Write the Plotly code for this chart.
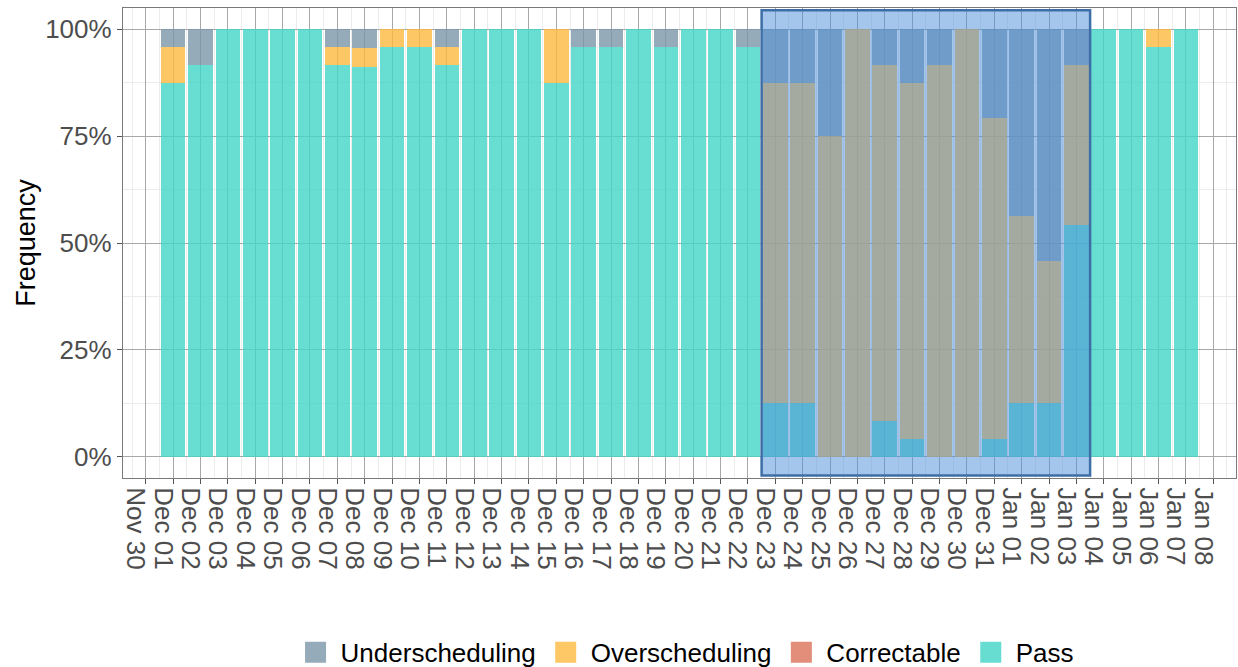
import plotly.graph_objects as go

# ---- data ----
dates = ["2023-12-01", "2023-12-02", "2023-12-03", "2023-12-04", "2023-12-05", "2023-12-06",
         "2023-12-07", "2023-12-08", "2023-12-09", "2023-12-10", "2023-12-11", "2023-12-12",
         "2023-12-13", "2023-12-14", "2023-12-15", "2023-12-16", "2023-12-17", "2023-12-18",
         "2023-12-19", "2023-12-20", "2023-12-21", "2023-12-22", "2023-12-23", "2023-12-24",
         "2023-12-25", "2023-12-26", "2023-12-27", "2023-12-28", "2023-12-29", "2023-12-30",
         "2023-12-31", "2024-01-01", "2024-01-02", "2024-01-03", "2024-01-04", "2024-01-05",
         "2024-01-06", "2024-01-07"]

pass_vals = [0.875, 0.9167, 1, 1, 1, 1, 0.9167, 0.913, 0.9583, 0.9583, 0.9167, 1,
             1, 1, 0.875, 0.9583, 0.9583, 1, 0.9583, 1, 1, 0.9583, 0.125, 0.125,
             0, 0, 0.0833, 0.0417, 0, 0, 0.0417, 0.125, 0.125, 0.5417, 1, 1,
             0.9583, 1]
correctable_vals = [0] * 38
over_vals = [0.0833, 0, 0, 0, 0, 0, 0.0417, 0.0435, 0.0417, 0.0417, 0.0417, 0,
             0, 0, 0.125, 0, 0, 0, 0, 0, 0, 0, 0.75, 0.75,
             0.75, 1, 0.8333, 0.8333, 0.9167, 1, 0.75, 0.4375, 0.3333, 0.375, 0, 0,
             0.0417, 0]
under_vals = [0.0417, 0.0833, 0, 0, 0, 0, 0.0417, 0.0435, 0, 0, 0.0417, 0,
              0, 0, 0, 0.0417, 0.0417, 0, 0.0417, 0, 0, 0.0417, 0.125, 0.125,
              0.25, 0, 0.0833, 0.125, 0.0833, 0, 0.2083, 0.4375, 0.5417, 0.0833, 0, 0,
              0, 0]

y_ticks = [0, 0.25, 0.5, 0.75, 1.0]
highlight_start = "2023-12-22 12:00"
highlight_end = "2024-01-03 12:00"
x_min = "2023-11-29 04:05"
x_max = "2024-01-08 19:55"

series = [
    ("Pass", pass_vals, "rgba(66,213,198,0.8)", "#67ddd1"),
    ("Correctable", correctable_vals, "rgba(219,114,89,0.8)", "#e28e7a"),
    ("Overscheduling", over_vals, "rgba(254,185,64,0.8)", "#fec866"),
    ("Underscheduling", under_vals, "rgba(122,150,169,0.8)", "#95abba"),
]

FONT = "Liberation Sans, Arial, Helvetica, sans-serif"
fig = go.Figure()

for name, vals, col, _ in series:
    fig.add_trace(go.Bar(
        x=dates, y=vals, name=name, showlegend=False,
        marker=dict(color=col, line=dict(width=0)),
        width=0.9 * 86400000,
    ))

# legend entries (larger swatches)
for name, vals, _, solid in [series[3], series[2], series[1], series[0]]:
    fig.add_trace(go.Scatter(
        x=[None], y=[None], mode="markers", name=name,
        marker=dict(symbol="square", size=16, color=solid,
                    line=dict(color=solid, width=5)),
    ))

fig.add_shape(type="rect", xref="x", yref="y",
              x0=highlight_start, x1=highlight_end, y0=-0.044, y1=1.045,
              fillcolor="rgba(75,141,217,0.5)",
              line=dict(color="#3d6ea6", width=2.5), layer="above")

fig.update_layout(
    width=1238, height=667,
    barmode="stack", bargap=0,
    plot_bgcolor="white", paper_bgcolor="white",
    margin=dict(l=123, r=2, t=8, b=189),
    font=dict(family=FONT, size=26, color="black"),
    legend=dict(orientation="h", x=0.505, xanchor="center",
                yref="container", y=0.022, yanchor="middle",
                font=dict(family=FONT, size=26, color="black"),
                itemsizing="trace", traceorder="normal", itemwidth=40),
)

fig.update_xaxes(
    type="date", range=[x_min, x_max],
    tick0="2023-11-30", dtick=86400000, tickformat="%b %d",
    tickangle=90, ticklabelshift=-10, ticklabelstandoff=-2,
    ticks="outside", ticklen=5, tickcolor="#555555",
    tickfont=dict(family=FONT, size=26, color="#4d4d4d"),
    showgrid=True, gridcolor="#a8a8a8", gridwidth=1,
    minor=dict(dtick=43200000, showgrid=True, gridcolor="#ececec", gridwidth=1),
    showline=True, linecolor="#7a7a7a", linewidth=1.3, mirror=True,
    zeroline=False, automargin=False,
)
fig.update_yaxes(
    range=[-0.05, 1.05], tickvals=y_ticks, tickformat=".0%",
    ticks="outside", ticklen=5, tickcolor="#555555",
    tickfont=dict(family=FONT, size=26, color="#4d4d4d"),
    title=dict(text="Frequency", font=dict(family=FONT, size=27, color="black"), standoff=1),
    showgrid=True, gridcolor="#a8a8a8", gridwidth=1,
    minor=dict(dtick=0.125, showgrid=True, gridcolor="#ececec", gridwidth=1),
    showline=True, linecolor="#7a7a7a", linewidth=1.3, mirror=True,
    zeroline=False, automargin=False,
)

fig.write_html("out.html", config={"displayModeBar": False},
               post_script="document.body.style.margin='0';")
